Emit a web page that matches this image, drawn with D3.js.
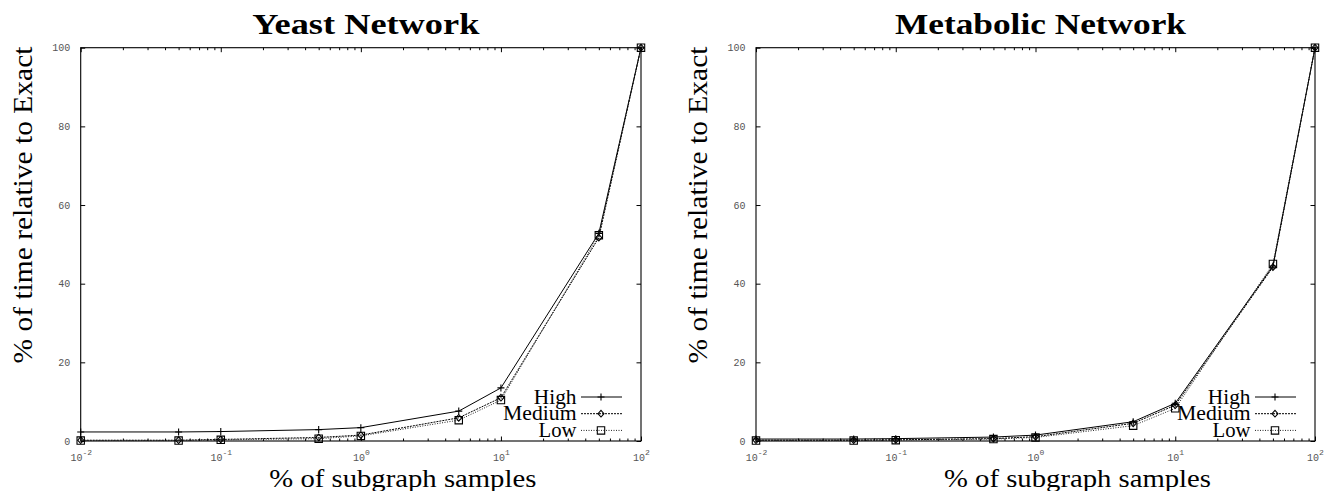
<!DOCTYPE html>
<html><head><meta charset="utf-8">
<script src="https://cdn.jsdelivr.net/npm/d3@7"></script>
<style>html,body{margin:0;padding:0;background:#fff;} svg{display:block;}</style>
</head><body>
<svg id="chart" width="1328" height="491"></svg>
<script>
// ---------- data ----------
const samplePercents = [0.01, 0.05, 0.1, 0.5, 1, 5, 10, 50, 100];
const seriesNames = ["High", "Medium", "Low"];
const yeastHigh   = [2.3, 2.3, 2.4, 2.9, 3.4, 7.6, 13.5, 52.8, 100];
const yeastMedium = [0.2, 0.2, 0.4, 0.9, 1.5, 5.9, 11.0, 51.7, 100];
const yeastLow    = [0.1, 0.1, 0.3, 0.6, 1.3, 5.3, 10.4, 52.3, 100];
const metabolicHigh   = [0.5, 0.5, 0.6, 1.0, 1.5, 4.9, 9.6, 44.5, 100];
const metabolicMedium = [0.2, 0.2, 0.3, 0.6, 1.1, 4.5, 9.1, 44.2, 100];
const metabolicLow    = [0.1, 0.1, 0.2, 0.5, 0.9, 3.9, 8.3, 45.0, 100];
const yTickValues = [0, 20, 40, 60, 80, 100];
const xTickExponents = [-2, -1, 0, 1, 2];
const xMinorMultipliers = [2, 3, 4, 5, 6, 7, 8, 9];
const panelTitles = ["Yeast Network", "Metabolic Network"];
const xAxisTitle = "% of subgraph samples";
const yAxisTitle = "% of time relative to Exact";

// ---------- layout / style ----------
const panels = [
  { title: panelTitles[0], series: [yeastHigh, yeastMedium, yeastLow], L: 80.7, R: 641, titleW: 227 },
  { title: panelTitles[1], series: [metabolicHigh, metabolicMedium, metabolicLow], L: 756, R: 1315, titleW: 291 }
];
const TOP = 47.7, BOTTOM = 441;
const serif = "'Liberation Serif','DejaVu Serif',serif";
const mono = "'Liberation Mono','DejaVu Sans Mono',monospace";
const styles = [
  { dash: null, marker: "plus", color: "#000", legendW: 42.7 },
  { dash: "2,1", marker: "diamond", color: "#000", legendW: 73.5 },
  { dash: "1,1.5", marker: "square", color: "#222", legendW: 37.9 }
];
const markerPath = {
  plus: "M-3.5,0H3.5M0,-3.5V3.5",
  diamond: "M0,-3.3L3,0L0,3.3L-3,0Z",
  square: "M-3.7,-3.7H3.7V3.7H-3.7Z"
};

const svg = d3.select("#chart");

panels.forEach(p => {
  const { L, R } = p;
  const x = d3.scaleLog().domain([0.01, 100]).range([L, R]);
  const y = d3.scaleLinear().domain([0, 100]).range([BOTTOM, TOP]);
  const g = svg.append("g");
  const cx = (L + R) / 2;

  // title
  g.append("text").attr("x", cx + 5).attr("y", 33.5).attr("text-anchor", "middle")
    .attr("font-family", serif).attr("font-weight", "bold").attr("font-size", 28.5)
    .attr("textLength", p.titleW).attr("lengthAdjust", "spacingAndGlyphs").text(p.title);

  const majorX = xTickExponents.map(e => Math.pow(10, e));
  const minorX = [];
  xTickExponents.slice(0, -1).forEach(e => xMinorMultipliers.forEach(m => minorX.push(m * Math.pow(10, e))));

  // bottom major ticks with labels
  const axB = g.append("g").attr("transform", `translate(0,${BOTTOM})`)
    .call(d3.axisBottom(x).tickValues(majorX).tickSizeInner(-4.5).tickSizeOuter(0).tickFormat(() => ""));
  axB.select(".domain").remove();
  axB.selectAll(".tick text").attr("y", 20).attr("dy", null).attr("fill", "#555")
    .attr("font-family", mono).attr("font-size", 10).attr("text-anchor", "middle")
    .each(function (d) {
      const t = d3.select(this);
      t.text(null);
      t.append("tspan").text("10");
      t.append("tspan").attr("dy", -6.5).attr("font-size", 8).text(String(Math.round(Math.log10(d))));
    });
  // bottom minor
  g.append("g").attr("transform", `translate(0,${BOTTOM})`)
    .call(d3.axisBottom(x).tickValues(minorX).tickSizeInner(-2.5).tickSizeOuter(0).tickFormat(() => ""))
    .call(s => s.select(".domain").remove());
  // top major & minor
  g.append("g").attr("transform", `translate(0,${TOP})`)
    .call(d3.axisTop(x).tickValues(majorX).tickSizeInner(-4.5).tickSizeOuter(0).tickFormat(() => ""))
    .call(s => s.select(".domain").remove());
  g.append("g").attr("transform", `translate(0,${TOP})`)
    .call(d3.axisTop(x).tickValues(minorX).tickSizeInner(-2.5).tickSizeOuter(0).tickFormat(() => ""))
    .call(s => s.select(".domain").remove());
  // left with labels
  const axL = g.append("g").attr("transform", `translate(${L},0)`)
    .call(d3.axisLeft(y).tickValues(yTickValues).tickSizeInner(-4.5).tickSizeOuter(0).tickPadding(10.5));
  axL.select(".domain").remove();
  axL.selectAll(".tick text").attr("fill", "#555").attr("font-family", mono).attr("font-size", 10);
  // right
  g.append("g").attr("transform", `translate(${R},0)`)
    .call(d3.axisRight(y).tickValues(yTickValues).tickSizeInner(-4.5).tickSizeOuter(0).tickFormat(() => ""))
    .call(s => s.select(".domain").remove());

  // frame
  g.append("rect").attr("x", L).attr("y", TOP).attr("width", R - L).attr("height", BOTTOM - TOP)
    .attr("fill", "none").attr("stroke", "#000").attr("stroke-width", 1.1);

  // axis titles
  g.append("text").attr("x", cx + 42).attr("y", 486.5).attr("text-anchor", "middle")
    .attr("font-family", serif).attr("font-size", 25)
    .attr("textLength", 267).attr("lengthAdjust", "spacingAndGlyphs").text(xAxisTitle);
  g.append("text").attr("transform", `translate(${L - 48.7},205) rotate(-90)`).attr("text-anchor", "middle")
    .attr("font-family", serif).attr("font-size", 26.6)
    .attr("textLength", 317).attr("lengthAdjust", "spacingAndGlyphs").text(yAxisTitle);

  // series
  const line = d3.line().x(d => x(d[0])).y(d => y(d[1]));
  p.series.forEach((vals, k) => {
    const st = styles[k];
    const pts = samplePercents.map((s, j) => [s, vals[j]]);
    g.append("path").attr("d", line(pts)).attr("fill", "none").attr("stroke", st.color)
      .attr("stroke-width", 1).attr("stroke-dasharray", st.dash);
    g.selectAll(null).data(pts).enter().append("path")
      .attr("transform", d => `translate(${x(d[0])},${y(d[1])})`)
      .attr("d", markerPath[st.marker]).attr("fill", "none").attr("stroke", "#000").attr("stroke-width", 1.1);
  });

  // legend
  seriesNames.forEach((name, k) => {
    const st = styles[k];
    const rowY = 397 + k * 16.7;
    g.append("text").attr("x", R - 64.5).attr("y", rowY + 6.5).attr("text-anchor", "end")
      .attr("font-family", serif).attr("font-size", 20.5)
      .attr("textLength", st.legendW).attr("lengthAdjust", "spacingAndGlyphs").text(name);
    g.append("line").attr("x1", R - 60).attr("x2", R - 19).attr("y1", rowY).attr("y2", rowY)
      .attr("stroke", st.color).attr("stroke-width", 1).attr("stroke-dasharray", st.dash);
    g.append("path").attr("transform", `translate(${R - 40},${rowY})`)
      .attr("d", markerPath[st.marker]).attr("fill", "none").attr("stroke", "#000").attr("stroke-width", 1.1);
  });
});
</script>
</body></html>
